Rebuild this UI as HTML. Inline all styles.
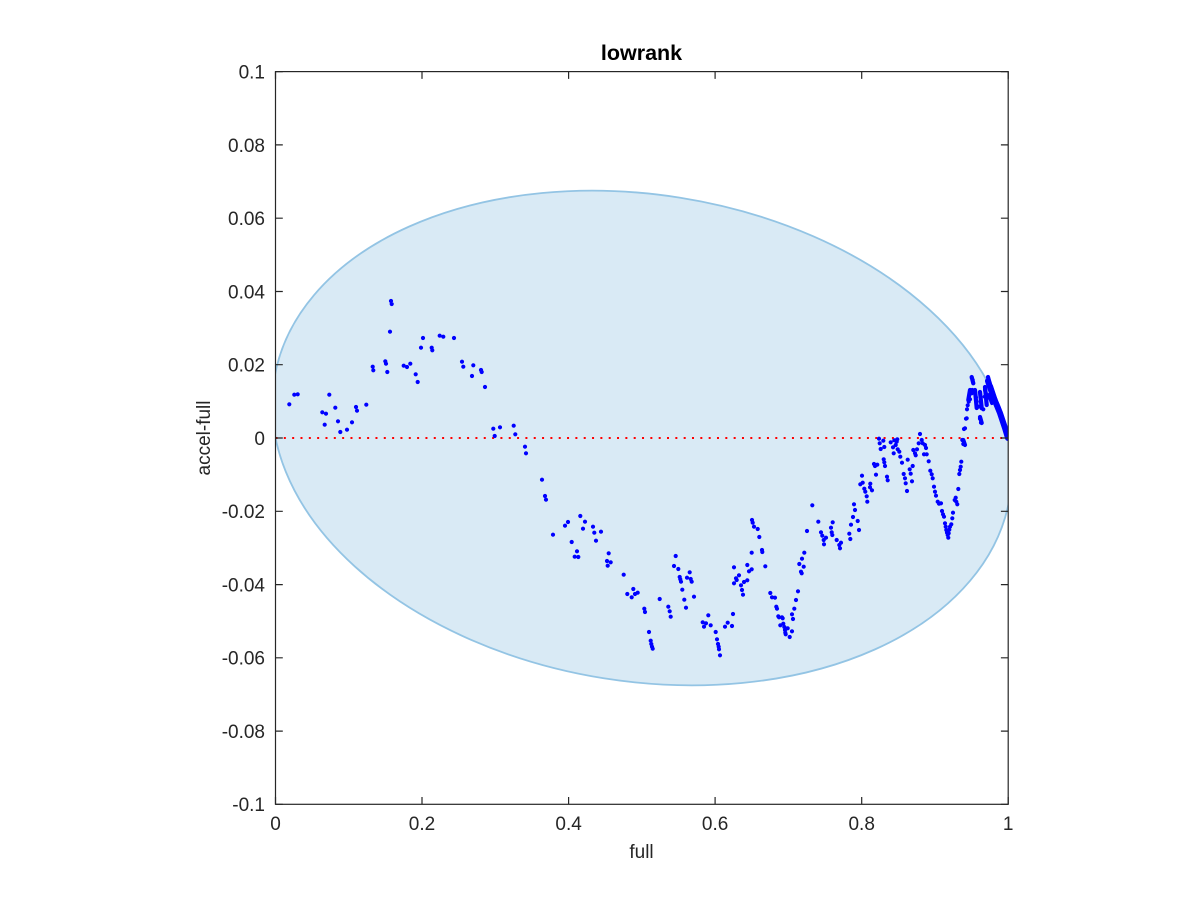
<!DOCTYPE html>
<html>
<head>
<meta charset="utf-8">
<style>
html,body{margin:0;padding:0;background:#fff;}
svg{display:block;}
text{font-family:"Liberation Sans",Helvetica,Arial,sans-serif;fill:#262626;}
</style>
</head>
<body>
<svg width="1200" height="900" viewBox="0 0 1200 900" xmlns="http://www.w3.org/2000/svg">
<defs>
<clipPath id="ax"><rect x="275.5" y="71.6" width="732.7" height="732.7"/></clipPath>
</defs>
<rect width="1200" height="900" fill="#fff"/>
<g clip-path="url(#ax)">
<ellipse cx="642" cy="438" rx="372.5" ry="243.3" transform="rotate(9.06 642 438)" fill="#d9eaf5" stroke="#93c4e4" stroke-width="1.8"/>
<line x1="275.5" y1="438" x2="1008.2" y2="438" stroke="#ff0000" stroke-width="2" stroke-dasharray="2 6.33"/>
<path fill="none" stroke="#0000ff" stroke-width="4.2" stroke-linecap="round" d="
M289.3 404.3h0M294.3 394.7h0M297.7 394.3h0M322.3 412.3h0M326 413.7h0M329.3 394.7h0M324.7 424.7h0M335.3 407.7h0M338 421.3h0M340.3 432h0M347 429.7h0M352 422.3h0M356 407h0M357 410.7h0M366.3 404.7h0M372.7 366.7h0M373.3 370.3h0M385.3 361.3h0M386 363.7h0M387.3 372h0M390 331.7h0M391 301h0M391.7 304h0M403.7 365.7h0M407 367h0M410.3 363.7h0M415.7 374.3h0M417.7 382h0M421 347.7h0M423 338h0M431.7 347.7h0M432.3 350.3h0M439.7 335.7h0M443.3 336.7h0M454 338h0M462 361.7h0M463.3 366.7h0M473.3 365.3h0M472 376h0M481 370h0M481.7 372h0M485 387h0M493.3 428.7h0M494.7 436h0M500 427.3h0M513.7 425.7h0M515.3 434.3h0M525 446.7h0M526 453.3h0M542 479.7h0M545 496h0M546 499.7h0M553 534.7h0
M565 525.7h0M568 522h0M580.3 516h0M583 528.7h0M585 521.7h0M571.7 542h0M577 551.3h0M574.7 556.7h0M578.3 557h0M593 526.7h0M594.3 532.7h0M596 540.7h0M601 531.7h0M608.7 553.3h0M607 561h0M610.7 562.3h0M607.7 565.7h0M623.7 574.7h0M627.3 594h0M631.7 597.3h0M633.3 589h0M635 594h0M637.7 592.7h0M644.3 608.7h0M645 612h0M649 632h0M650.7 640.7h0M651.3 644h0M652 646.7h0M652.7 648.7h0M659.7 599h0M668.3 606.7h0M669.7 611.3h0M670.7 616.7h0M675.7 556h0M674 566h0M678.3 569h0M679.7 577h0M680.3 579.3h0M681 581.7h0M687 577.7h0M689.7 572.3h0M690.7 579h0M691.7 581.7h0M682.3 589.7h0M684.3 599.7h0M686 607.7h0M694 596.7h0M702.7 622.3h0M704 626.7h0M706 623.3h0M708.3 615.3h0M710.7 625.3h0M715.7 632h0M717 639.3h0M718 644h0M718.7 646.7h0M719 649.3h0M720 655.3h0M725 626.7h0M727.7 622.7h0M732 626h0M733 614h0M734 583.3h0M736.7 580h0M736 578.3h0M739 575.3h0M734 567.3h0M741 585.3h0M742 590h0M743 594.7h0M744 582h0M747.3 580.3h0M747.3 565h0M749 571.3h0M751.7 569.3h0M751.7 552.7h0M752 520h0M752.7 522.7h0M754 526.7h0M757.7 529h0M759.3 537h0M762 550h0M762.3 552h0M765.3 566.3h0M770.3 593h0M772 597.3h0M775 597.7h0M776.3 606.7h0M777 608.7h0M778.3 616.3h0M779 617.3h0M782 617.3h0M782.7 618.3h0M780.3 625.3h0M783.3 623.7h0M784.3 627h0M785 630h0M785.3 632.7h0M785.7 634.3h0M787.7 628.3h0M789.7 637h0M792 631.3h0M792 614.3h0M793 619h0M794.3 608.7h0M796 600h0M798 591.3h0M799.3 564h0M801 571.7h0M801.7 573.3h0M802 558.7h0M803.7 566.7h0M804.3 552.7h0M807 531h0M812.3 505.3h0M818.3 521.7h0
M821 532.3h0M822.3 535.7h0M823.7 540h0M824 544.3h0M826 537.7h0M831 527.7h0M831.7 532.3h0M832.7 522.3h0M832.3 535h0M836.7 540h0M839.3 545h0M841 542.7h0M840 548.3h0M849.3 533.7h0M850.3 539h0M851 524.7h0M853 517h0M855 510h0M854 504.3h0M857.7 521h0M859 530h0M860.3 484.3h0M862 475.7h0M862.7 482.7h0M864.3 488.7h0M865.3 491.7h0M866.7 496.3h0M867.3 501.7h0M870 487.3h0M870.3 483.7h0M872 490.3h0M874 464h0M875 466h0M877.3 464.7h0M876 474.7h0M879 438.7h0M879.7 443.3h0M880.7 449h0M883.3 440.7h0M884.3 447h0M883.7 459.3h0M884.3 462.3h0M885 466h0M887 476.7h0M887.7 480.3h0M890.7 442.3h0M893 447.3h0M894.3 440.3h0M895.7 445h0M896.7 441.7h0M897.3 439.3h0M897.7 449.3h0M899.3 451.7h0M893.7 453.3h0M900.3 456.7h0M902 462.7h0M903.7 474h0M905 478.3h0M905.7 483.3h0M907 491h0M907.7 459.7h0M909.7 469.3h0M910.7 473.7h0M912.7 466h0M912 481.3h0M913.3 450h0M915 453.3h0M917 449.3h0M918.7 443.3h0M920 434h0M921.7 440h0M922.7 443.3h0M925 445h0M926 448h0M924 454.3h0M926.7 454.3h0M915.7 455.3h0M928.7 461.3h0M930.3 470.7h0M931.7 474.3h0M932.7 478.3h0M934 486.7h0M935 491.7h0M936 495.7h0M937.7 501.7h0M939 503.7h0M941 503.3h0M942 511h0M943 514.3h0M944 516.7h0M945 523.3h0M945.7 526.7h0M946.3 530h0M947 532.7h0M947.7 535h0M948.3 537.7h0M948.7 533.3h0M949.3 529.7h0M950 526.7h0M951.3 524.3h0M952.3 518.3h0M953 512.7h0M954.7 500h0M955.7 497.7h0M956.3 501.7h0M957.3 504.3h0M958.3 489h0M959.3 474h0M960 470h0M960.7 466.7h0M961.3 461.7h0M962.3 440h0M963.3 444h0M964 429h0M966 418.7h0M967 409.3h0M968.7 401.7h0M967.7 405.3h0M970 399.3h0M971.7 393.3h0M972.3 390h0M972.7 380h0M971.7 377.7h0M975 393.3h0M976 397.3h0M976.7 401.7h0M978.3 406.7h0M980 418.7h0M981 422.7h0M981.7 408.3h0M983.3 409.3h0M984.7 396.7h0M966.7 418.3h0M965 428.3h0
M971.7 377L973.3 383.3M970 390L968.3 400M975 390L976.7 408M980 392L981.7 408M985 387L986.7 405M980 417L981.7 423M963.3 440L965 445M988 377L992 392"/>
<path fill="none" stroke="#0000ff" stroke-width="6" stroke-linecap="round" d="M988 381L993 396L1000 413L1005 428L1008 438"/>
<path fill="none" stroke="#0000ff" stroke-width="4" stroke-linecap="round" d="M991 386L996 401L999 408L1003 421M985 390L987 398M989 395L992 403"/>
</g>
<!-- axes box -->
<rect x="275.5" y="71.6" width="732.7" height="732.7" fill="none" stroke="#262626" stroke-width="1.2"/>
<!-- ticks -->
<g stroke="#262626" stroke-width="1.2">
<path d="M275.5 71.6h7.3M275.5 144.9h7.3M275.5 218.2h7.3M275.5 291.5h7.3M275.5 364.7h7.3M275.5 438h7.3M275.5 511.3h7.3M275.5 584.6h7.3M275.5 657.8h7.3M275.5 731.1h7.3M275.5 804.3h7.3"/>
<path d="M1008.2 71.6h-7.3M1008.2 144.9h-7.3M1008.2 218.2h-7.3M1008.2 291.5h-7.3M1008.2 364.7h-7.3M1008.2 438h-7.3M1008.2 511.3h-7.3M1008.2 584.6h-7.3M1008.2 657.8h-7.3M1008.2 731.1h-7.3M1008.2 804.3h-7.3"/>
<path d="M275.5 804.3v-7.3M422 804.3v-7.3M568.6 804.3v-7.3M715.1 804.3v-7.3M861.7 804.3v-7.3M1008.2 804.3v-7.3"/>
<path d="M275.5 71.6v7.3M422 71.6v7.3M568.6 71.6v7.3M715.1 71.6v7.3M861.7 71.6v7.3M1008.2 71.6v7.3"/>
</g>
<!-- y tick labels -->
<g font-size="19" text-anchor="end">
<text x="265" y="78.5">0.1</text>
<text x="265" y="151.8">0.08</text>
<text x="265" y="225.1">0.06</text>
<text x="265" y="298.4">0.04</text>
<text x="265" y="371.6">0.02</text>
<text x="265" y="444.9">0</text>
<text x="265" y="518.2">-0.02</text>
<text x="265" y="591.5">-0.04</text>
<text x="265" y="664.7">-0.06</text>
<text x="265" y="738">-0.08</text>
<text x="265" y="811.2">-0.1</text>
</g>
<!-- x tick labels -->
<g font-size="19" text-anchor="middle">
<text x="275.5" y="830">0</text>
<text x="422" y="830">0.2</text>
<text x="568.6" y="830">0.4</text>
<text x="715.1" y="830">0.6</text>
<text x="861.7" y="830">0.8</text>
<text x="1008.2" y="830">1</text>
</g>
<text x="641.5" y="858" font-size="19" text-anchor="middle">full</text>
<text transform="translate(210 438) rotate(-90)" font-size="19" text-anchor="middle">accel-full</text>
<text x="641.5" y="60" font-size="21.5" font-weight="bold" text-anchor="middle" style="fill:#000">lowrank</text>
</svg>
</body>
</html>
